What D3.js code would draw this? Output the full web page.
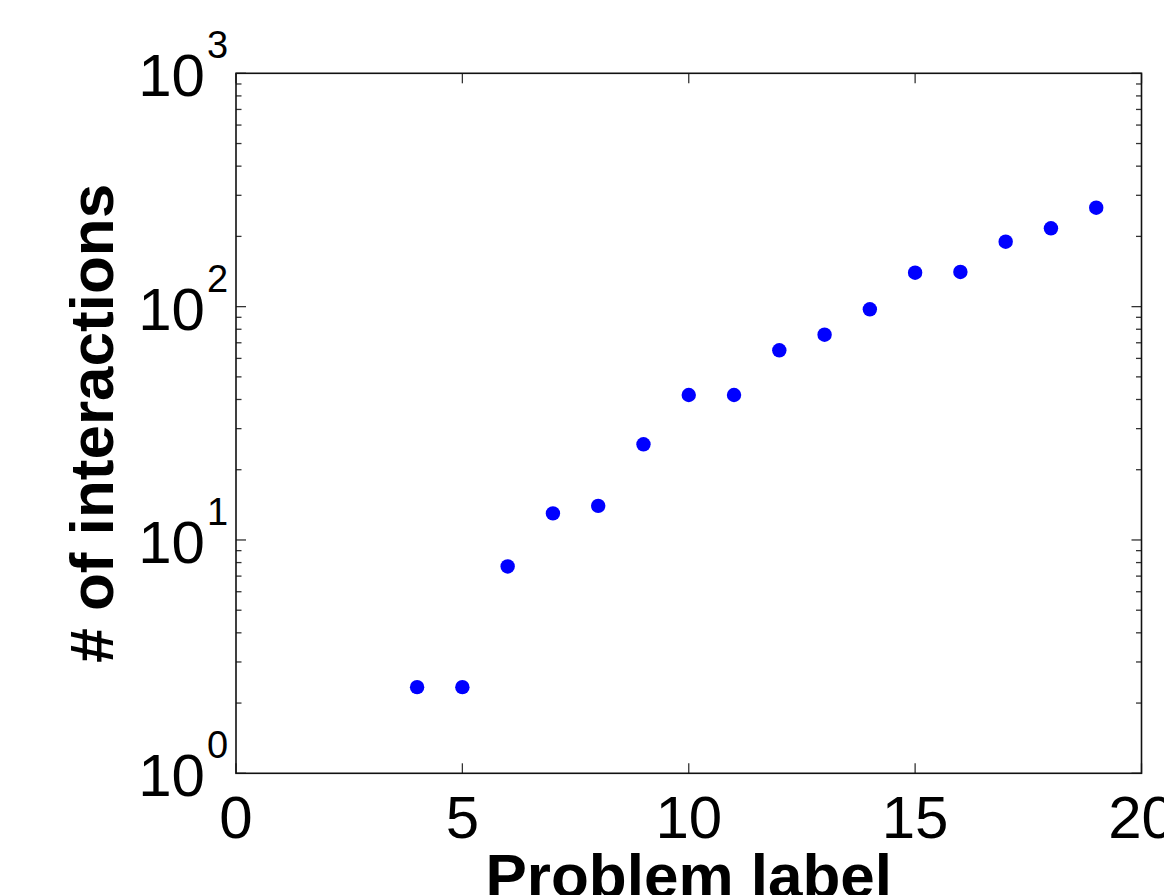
<!DOCTYPE html>
<html>
<head>
<meta charset="utf-8">
<script src="https://cdn.jsdelivr.net/npm/d3@7"></script>
<style>
  body { margin: 0; background: #fff; }
  text { font-family: "Liberation Sans", Arial, sans-serif; fill: #000; }
</style>
</head>
<body>
<svg id="chart" width="1164" height="895"></svg>
<script>
// problem labels and mean number of interactions
const problemLabels = [4, 5, 6, 7, 8, 9, 10, 11, 12, 13, 14, 15, 16, 17, 18, 19];
const interactions = [2.34, 2.34, 7.7, 13.0, 14.0, 25.7, 41.8, 41.8, 65, 75.8, 97.4, 139.8, 140.8, 189.8, 216.6, 265.5];

const xTicks = [0, 5, 10, 15, 20];
const yDecades = [0, 1, 2, 3];

const margin = { top: 73.3, right: 22.5, bottom: 121.7, left: 236 };
const svg = d3.select("#chart");
const width = +svg.attr("width");
const height = +svg.attr("height");

const x = d3.scaleLinear()
  .domain([0, 20])
  .range([margin.left, width - margin.right]);
const y = d3.scaleLog()
  .domain([1, 1000])
  .range([height - margin.bottom, margin.top]);

const x0 = x.range()[0], x1 = x.range()[1];
const y0 = y.range()[0], y1 = y.range()[1];
const majorLen = 10, minorLen = 5.5;
const tickColor = "#333";

const ticks = svg.append("g").attr("class", "ticks")
  .attr("stroke", tickColor)
  .attr("stroke-width", 1.3);

// x ticks, bottom and top, pointing inward
xTicks.forEach(t => {
  ticks.append("line").attr("x1", x(t)).attr("x2", x(t)).attr("y1", y0).attr("y2", y0 - majorLen);
  ticks.append("line").attr("x1", x(t)).attr("x2", x(t)).attr("y1", y1).attr("y2", y1 + majorLen);
});

// y ticks on the log axis: decades long, 2..9 short
yDecades.forEach(p => {
  const v = Math.pow(10, p);
  ticks.append("line").attr("x1", x0).attr("x2", x0 + majorLen).attr("y1", y(v)).attr("y2", y(v));
  ticks.append("line").attr("x1", x1).attr("x2", x1 - majorLen).attr("y1", y(v)).attr("y2", y(v));
  if (p < 3) {
    for (let m = 2; m <= 9; m++) {
      const mv = m * v;
      ticks.append("line").attr("x1", x0).attr("x2", x0 + minorLen).attr("y1", y(mv)).attr("y2", y(mv));
      ticks.append("line").attr("x1", x1).attr("x2", x1 - minorLen).attr("y1", y(mv)).attr("y2", y(mv));
    }
  }
});

// axes box
svg.append("rect")
  .attr("x", x0).attr("y", y1)
  .attr("width", x1 - x0).attr("height", y0 - y1)
  .attr("fill", "none")
  .attr("stroke", "#111")
  .attr("stroke-width", 1.6);

// x tick labels
svg.append("g").selectAll("text")
  .data(xTicks)
  .join("text")
  .attr("x", d => x(d))
  .attr("y", y0 + 65)
  .attr("text-anchor", "middle")
  .attr("font-size", 60)
  .text(d => d);

// y tick labels as 10^n
const yLab = svg.append("g").selectAll("g")
  .data(yDecades)
  .join("g")
  .attr("transform", d => `translate(${x0 - 31}, ${y(Math.pow(10, d)) + 23})`);
yLab.append("text")
  .attr("text-anchor", "end")
  .attr("font-size", 60)
  .text("10");
yLab.append("text")
  .attr("x", 2)
  .attr("y", -38)
  .attr("font-size", 38)
  .text(d => d);

// points
svg.append("g").selectAll("circle")
  .data(problemLabels.map((p, i) => ({ p, v: interactions[i] })))
  .join("circle")
  .attr("cx", d => x(d.p))
  .attr("cy", d => y(d.v))
  .attr("r", 7.2)
  .attr("fill", "#0000ff");

// axis titles
svg.append("text")
  .attr("x", (x0 + x1) / 2)
  .attr("y", 897)
  .attr("text-anchor", "middle")
  .attr("font-size", 62)
  .attr("font-weight", "bold")
  .text("Problem label");

svg.append("text")
  .attr("transform", `translate(113, ${(y0 + y1) / 2}) rotate(-90)`)
  .attr("text-anchor", "middle")
  .attr("font-size", 62)
  .attr("font-weight", "bold")
  .text("# of interactions");
</script>
</body>
</html>
